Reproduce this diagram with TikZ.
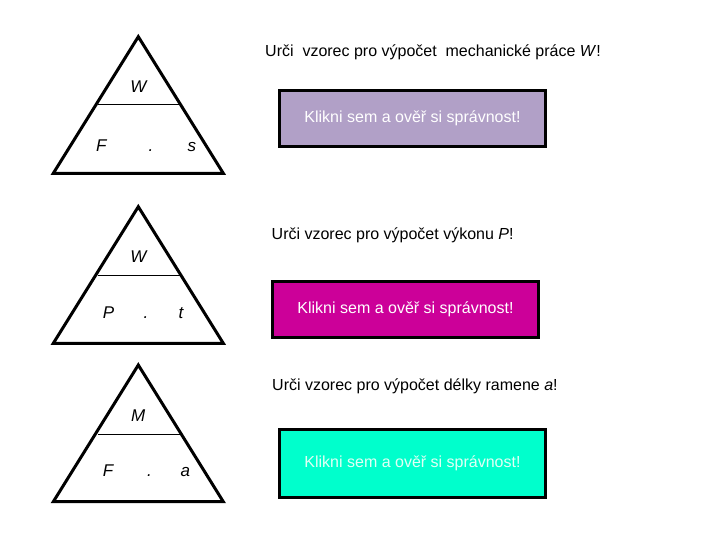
\documentclass[tikz,border=0pt]{standalone}
\usepackage{fontspec}
\setmainfont{Liberation Sans}
\definecolor{lav}{RGB}{177,160,199}
\definecolor{mag}{RGB}{204,0,153}
\definecolor{aqu}{RGB}{0,255,204}
\begin{document}
\begin{tikzpicture}[x=1pt,y=-1pt,
  tri/.style={line width=3pt,line join=miter},
  sep/.style={line width=1pt},
  var/.style={font=\fontsize{17}{19}\selectfont\itshape,inner sep=0pt,anchor=base west},
  topvar/.style={font=\fontsize{17}{19}\selectfont\itshape,inner sep=0pt,anchor=base},
  ttl/.style={font=\fontsize{16}{18}\selectfont,inner sep=0pt,anchor=base west},
  btn/.style={draw=black,line width=3pt,minimum width=266pt,minimum height=56pt,inner sep=0pt,font=\fontsize{16}{18}\selectfont}]
\useasboundingbox (0,0) rectangle (720,540);
% triangle 1
\draw[tri] (138.3,36.7) coordinate (t1a) -- (53.3,173.3) coordinate (t1b) -- (223.3,173.3) coordinate (t1c) -- cycle;
\coordinate (l1a) at (98.3,105);
\coordinate (l1b) at (180,105);
\draw[sep] (l1a) -- (l1b);
\node[topvar] (w1) at (138.3,92.7) {W};
\node[var] (f1) at (96,151.7) {F};
\node[var] (d1) at (148.5,151.7) {.};
\node[var] (s1) at (187.5,151.7) {s};
% triangle 2
\draw[tri] (138.3,206.7) coordinate (t2a) -- (53.3,343.3) coordinate (t2b) -- (223.3,343.3) coordinate (t2c) -- cycle;
\coordinate (l2a) at (98.3,275);
\coordinate (l2b) at (180,275);
\draw[sep] (l2a) -- (l2b);
\node[topvar] (w2) at (138.3,262.7) {W};
\node[var] (p2) at (102.7,318.3) {P};
\node[var] (d2) at (143.5,318.3) {.};
\node[var] (tt2) at (178.5,318.3) {t};
% triangle 3
\draw[tri] (138.3,365) coordinate (t3a) -- (53.3,501.7) coordinate (t3b) -- (223.3,501.7) coordinate (t3c) -- cycle;
\coordinate (l3a) at (98.3,434.3);
\coordinate (l3b) at (180,434.3);
\draw[sep] (l3a) -- (l3b);
\node[topvar] (m3) at (138.3,421) {M};
\node[var] (f3) at (102.7,476.7) {F};
\node[var] (d3) at (146.8,476.7) {.};
\node[var] (a3) at (180.5,476.7) {a};
% titles
\node[ttl] (q1) at (265,56.5) {Urči\ \ vzorec pro výpočet\ \ mechanické práce \textit{W}!};
\node[ttl] (q2) at (271.5,240) {Urči vzorec pro výpočet výkonu \textit{P}!};
\node[ttl] (q3) at (272,390) {Urči vzorec pro výpočet délky ramene \textit{a}!};
% buttons
\node[btn,fill=lav,text=white] (b1) at (412.5,118.3) {Klikni sem a ověř si správnost!};
\node[btn,fill=mag,text=white] (b2) at (405.5,309.7) {Klikni sem a ověř si správnost!};
\node[btn,fill=aqu,text={rgb,255:red,225;green,255;blue,245},minimum height=68pt] (b3) at (412.5,463.3) {Klikni sem a ověř si správnost!};
\end{tikzpicture}
\end{document}
